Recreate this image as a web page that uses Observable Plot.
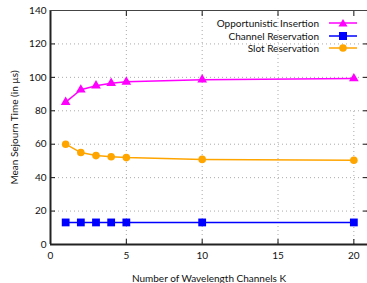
<!DOCTYPE html>
<html><head><meta charset="utf-8">
<script src="https://cdn.jsdelivr.net/npm/d3@7"></script>
<script src="https://cdn.jsdelivr.net/npm/@observablehq/plot@0.6"></script>
<style>
body{margin:0;background:#fff;}
#wrap{position:relative;width:367px;height:283px;font-family:Lato,"Open Sans",sans-serif;}
#legend{position:absolute;left:0;top:0;font-size:10px;color:#111;}
.row{position:absolute;right:0;display:flex;align-items:center;white-space:nowrap;height:12px;}
</style>
</head><body>
<div id="wrap"></div>
<script>
const channels = [1, 2, 3, 4, 5, 10, 20];
const opportunistic = [85.2, 92.6, 95.0, 96.5, 97.3, 98.6, 99.3];
const channelRes = [13.2, 13.2, 13.2, 13.2, 13.2, 13.2, 13.2];
const slotRes = [60.0, 55.0, 53.2, 52.5, 52.0, 50.9, 50.4];
const seriesNames = ["Opportunistic Insertion", "Channel Reservation", "Slot Reservation"];
const colors = ["#ff00ff", "#0000ff", "#ffa500"];
const xTicks = [0, 5, 10, 15, 20];
const yTicks = [0, 20, 40, 60, 80, 100, 120, 140];

const rows = [];
[opportunistic, channelRes, slotRes].forEach((vals, s) => {
  vals.forEach((v, i) => rows.push({series: seriesNames[s], k: channels[i], t: v}));
});
const by = name => rows.filter(d => d.series === name);

const plot = Plot.plot({
  width: 367, height: 283,
  marginLeft: 50, marginRight: 0, marginTop: 10, marginBottom: 39,
  style: {fontFamily: "Lato, 'Open Sans', sans-serif", fontSize: "10px", color: "#111", background: "white"},
  x: {domain: [0, 20.9]},
  y: {domain: [0, 140]},
  marks: [
    Plot.gridX(xTicks.filter(d => d > 0 && d < 20), {stroke: "#aaa", strokeOpacity: 1, strokeDasharray: "1,3"}),
    Plot.gridX([20], {stroke: "#aaa", strokeOpacity: 1, strokeDasharray: "1,3", y1: 0, y2: 80}),
    Plot.gridY(yTicks.filter(d => d > 0 && d < 140), {stroke: "#aaa", strokeOpacity: 1, strokeDasharray: "1,3"}),
    Plot.axisX(xTicks, {tickSize: -5, tickPadding: 12, label: "Number of Wavelength Channels K", labelAnchor: "center", labelArrow: "none", labelOffset: 37, fontSize: 10}),
    Plot.axisX(xTicks.filter(d => d > 0), {anchor: "top", tickSize: -5, label: null, tickFormat: () => ""}),
    Plot.axisY(yTicks, {tickSize: -5, tickPadding: 9, fontSize: 10, label: "Mean Sejourn Time (in µs)", labelAnchor: "center", labelArrow: "none", labelOffset: 40}),
    Plot.axisY(yTicks, {anchor: "right", tickSize: -5, label: null, tickFormat: () => ""}),
    Plot.ruleY([0], {stroke: "#222", strokeWidth: 2}),
    Plot.ruleX([0], {stroke: "#222", strokeWidth: 2}),
    Plot.ruleY([140], {stroke: "#444", strokeWidth: 1}),
    Plot.line(by(seriesNames[0]), {x: "k", y: "t", stroke: colors[0], strokeWidth: 1.5}),
    Plot.dot(by(seriesNames[0]), {x: "k", y: "t", fill: colors[0], symbol: "triangle", r: 3.6}),
    Plot.line(by(seriesNames[1]), {x: "k", y: "t", stroke: colors[1], strokeWidth: 1.5}),
    Plot.dot(by(seriesNames[1]), {x: "k", y: "t", fill: colors[1], symbol: "square", r: 4.4}),
    Plot.line(by(seriesNames[2]), {x: "k", y: "t", stroke: colors[2], strokeWidth: 1.5}),
    Plot.dot(by(seriesNames[2]), {x: "k", y: "t", fill: colors[2], symbol: "circle", r: 3.8})
  ]
});
const wrap = document.getElementById("wrap");
wrap.appendChild(plot);

// legend
const legend = document.createElement("div");
legend.id = "legend";
legend.style.width = "357px";
const syms = ["tri", "sq", "circ"];
seriesNames.forEach((name, i) => {
  const row = document.createElement("div");
  row.className = "row";
  row.style.top = (17 + i * 12.7) + "px";
  let marker = "";
  if (syms[i] === "tri") marker = `<path d="M14,2 L18.5,9.5 L9.5,9.5 Z" fill="${colors[i]}"/>`;
  if (syms[i] === "sq") marker = `<rect x="10" y="2" width="8" height="8" fill="${colors[i]}"/>`;
  if (syms[i] === "circ") marker = `<circle cx="14" cy="6" r="3.8" fill="${colors[i]}"/>`;
  row.innerHTML = `<span style="margin-right:10px">${name}</span><svg width="28" height="12"><line x1="0" x2="28" y1="6" y2="6" stroke="${colors[i]}" stroke-width="1.5"/>${marker}</svg>`;
  legend.appendChild(row);
});
wrap.appendChild(legend);
</script>
</body></html>
